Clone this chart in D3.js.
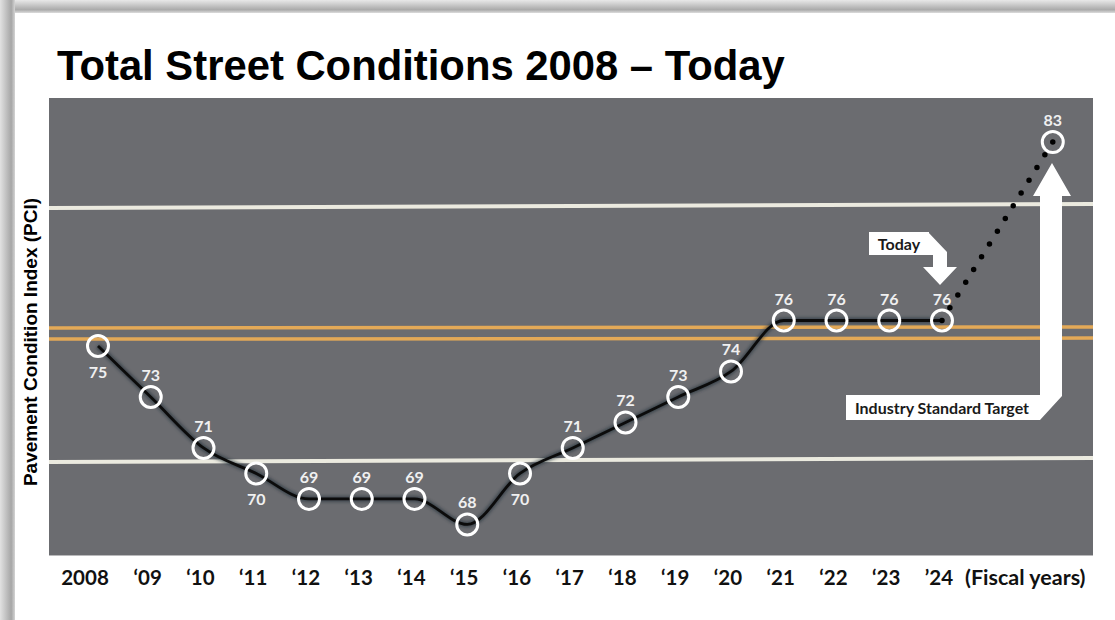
<!DOCTYPE html>
<html>
<head>
<meta charset="utf-8">
<script src="https://cdn.jsdelivr.net/npm/d3@7"></script>
<style>
  html, body { margin: 0; padding: 0; background: #fff; }
  svg { display: block; }
</style>
</head>
<body>
<svg id="chart" width="1115" height="620"></svg>
<script>
// ---- data ----
const years = [2008, 2009, 2010, 2011, 2012, 2013, 2014, 2015, 2016, 2017, 2018, 2019, 2020, 2021, 2022, 2023, 2024];
const pci = [75, 73, 71, 70, 69, 69, 69, 68, 70, 71, 72, 73, 74, 76, 76, 76, 76];
const labelSide = ["below", "above", "above", "below", "above", "above", "above", "above", "below", "above", "above", "above", "above", "above", "above", "above", "above"];
const tickLabels = ["2008", "\u201809", "\u201810", "\u201811", "\u201812", "\u201813", "\u201814", "\u201815", "\u201816", "\u201817", "\u201818", "\u201819", "\u201820", "\u201821", "\u201822", "\u201823", "\u201924"];
const targetYear = 2026.1;
const targetValue = 83;
// decorative road markings (PCI units at left and right edge)
const roadWhite = [[80.41, 80.57], [70.45, 70.61]];
const roadYellow = [[75.71, 75.75], [75.27, 75.31]];

const svg = d3.select("#chart");
const W = 1115, H = 620;
const plot = { x0: 49, x1: 1093, y0: 98, y1: 555 };

// ---- frame shadows ----
const defs = svg.append("defs");
const gl = defs.append("linearGradient").attr("id", "gLeft").attr("x1", "0").attr("x2", "1").attr("y1", "0").attr("y2", "0");
gl.append("stop").attr("offset", "0").attr("stop-color", "#e2e2e2");
gl.append("stop").attr("offset", "0.75").attr("stop-color", "#a6a6a6");
gl.append("stop").attr("offset", "1").attr("stop-color", "#d4d4d4");
const gt = defs.append("linearGradient").attr("id", "gTop").attr("x1", "0").attr("x2", "0").attr("y1", "0").attr("y2", "1");
gt.append("stop").attr("offset", "0").attr("stop-color", "#e8e8e8");
gt.append("stop").attr("offset", "0.75").attr("stop-color", "#aaaaaa");
gt.append("stop").attr("offset", "1").attr("stop-color", "#dcdcdc");
const blur = defs.append("filter").attr("id", "blur").attr("x", "-10%").attr("y", "-10%").attr("width", "120%").attr("height", "120%");
blur.append("feGaussianBlur").attr("stdDeviation", 1.6);

svg.append("rect").attr("x", 0).attr("y", 0).attr("width", W).attr("height", 13).attr("fill", "url(#gTop)");
svg.append("rect").attr("x", 0).attr("y", 0).attr("width", 15).attr("height", H).attr("fill", "url(#gLeft)");

// ---- title ----
svg.append("text")
  .attr("x", 57).attr("y", 80)
  .attr("font-family", "'Liberation Sans', Arial, sans-serif")
  .attr("font-weight", "bold").attr("font-size", 41.8)
  .attr("fill", "#000")
  .text("Total Street Conditions 2008 \u2013 Today");

// ---- plot area ----
svg.append("rect")
  .attr("x", plot.x0).attr("y", plot.y0)
  .attr("width", plot.x1 - plot.x0).attr("height", plot.y1 - plot.y0)
  .attr("fill", "#6b6c70");
svg.append("line").attr("x1", plot.x0).attr("x2", plot.x1).attr("y1", plot.y1 + 0.5).attr("y2", plot.y1 + 0.5)
  .attr("stroke", "#b9b9bb").attr("stroke-width", 1);

const x = d3.scaleLinear().domain([2008, 2024]).range([98, 942]);
const y = d3.scaleLinear().domain([66.8, 84.73]).range([plot.y1, plot.y0]);

// road markings
roadWhite.forEach(d => {
  svg.append("line")
    .attr("x1", plot.x0).attr("x2", plot.x1)
    .attr("y1", y(d[0])).attr("y2", y(d[1]))
    .attr("stroke", "#ebeadf").attr("stroke-width", 4);
});
roadYellow.forEach(d => {
  svg.append("line")
    .attr("x1", plot.x0).attr("x2", plot.x1)
    .attr("y1", y(d[0])).attr("y2", y(d[1]))
    .attr("stroke", "#e3a957").attr("stroke-width", 3.5);
});

// ---- series ----
const pts = years.map((yr, i) => ({ yr, v: pci[i], side: labelSide[i] }));
const lineGen = d3.line().x(d => x(d.yr)).y(d => y(d.v)).curve(d3.curveMonotoneX);

svg.append("path").datum(pts)
  .attr("d", lineGen)
  .attr("fill", "none").attr("stroke", "#1d2a36").attr("stroke-width", 6)
  .attr("opacity", 0.55).attr("filter", "url(#blur)");
svg.append("path").datum(pts)
  .attr("d", lineGen)
  .attr("fill", "none").attr("stroke", "#0b0b0b").attr("stroke-width", 2.8)
  .attr("stroke-linejoin", "round");

// dotted projection
const proj = [{ yr: 2024, v: pci[pci.length - 1] }, { yr: targetYear, v: targetValue }];
svg.append("path").datum(proj)
  .attr("d", d3.line().x(d => x(d.yr)).y(d => y(d.v)))
  .attr("fill", "none").attr("stroke", "#000").attr("stroke-width", 5.5)
  .attr("stroke-linecap", "round").attr("stroke-dasharray", "0 15");

// markers
const allPts = pts.concat([{ yr: targetYear, v: targetValue, side: "above" }]);
svg.selectAll("circle.mk").data(allPts).enter().append("circle")
  .attr("class", "mk")
  .attr("cx", d => x(d.yr)).attr("cy", d => y(d.v))
  .attr("r", 10.5)
  .attr("fill", "none").attr("stroke", "#ffffff").attr("stroke-width", 3);

// value labels
svg.selectAll("text.vl").data(allPts).enter().append("text")
  .attr("class", "vl")
  .attr("x", d => x(d.yr))
  .attr("y", d => y(d.v) + (d.side === "above" ? -16 : 32))
  .attr("text-anchor", "middle")
  .attr("font-family", "Lato, 'Open Sans', sans-serif")
  .attr("font-weight", "bold").attr("font-size", 16)
  .attr("fill", "#f0f0f0")
  .text(d => d.v);

// ---- annotations ----
// Today box + arrow
svg.append("polygon")
  .attr("points", [[928, 232], [947, 252], [947, 267], [957, 267], [940, 285], [923, 267], [933, 267], [933, 255], [928, 255]].map(p => p.join(",")).join(" "))
  .attr("fill", "#ffffff");
svg.append("rect").attr("x", 869).attr("y", 232).attr("width", 60).attr("height", 23).attr("fill", "#ffffff");
svg.append("text").attr("x", 899).attr("y", 249.5)
  .attr("text-anchor", "middle")
  .attr("font-family", "Lato, 'Open Sans', sans-serif")
  .attr("font-weight", "bold").attr("font-size", 16).attr("fill", "#1a1a1a")
  .text("Today");

// Industry standard target arrow + box
svg.append("polygon")
  .attr("points", [[1052, 163], [1071, 196], [1062, 196], [1062, 396], [1040, 420], [1040, 196], [1033, 196]].map(p => p.join(",")).join(" "))
  .attr("fill", "#ffffff");
svg.append("rect").attr("x", 846).attr("y", 395).attr("width", 194).attr("height", 25).attr("fill", "#ffffff");
svg.append("text").attr("x", 942).attr("y", 413.5)
  .attr("text-anchor", "middle")
  .attr("font-family", "Lato, 'Open Sans', sans-serif")
  .attr("font-weight", "bold").attr("font-size", 16).attr("fill", "#1a1a1a")
  .text("Industry Standard Target");

// ---- axes text ----
svg.selectAll("text.tk").data(years).enter().append("text")
  .attr("class", "tk")
  .attr("x", (d, i) => x(d) + (i === 0 ? -13 : -3))
  .attr("y", 585)
  .attr("text-anchor", "middle")
  .attr("font-family", "Lato, 'Open Sans', sans-serif")
  .attr("font-weight", "bold").attr("font-size", 20.5).attr("fill", "#111")
  .text((d, i) => tickLabels[i]);
svg.append("text").attr("x", 965).attr("y", 585)
  .attr("font-family", "Lato, 'Open Sans', sans-serif")
  .attr("font-weight", "bold").attr("font-size", 21.5).attr("fill", "#111")
  .text("(Fiscal years)");

svg.append("text")
  .attr("transform", "translate(37,342) rotate(-90)")
  .attr("text-anchor", "middle")
  .attr("font-family", "'Liberation Sans', Arial, sans-serif")
  .attr("font-weight", "bold").attr("font-size", 19).attr("fill", "#000")
  .text("Pavement Condition Index (PCI)");
</script>
</body>
</html>
